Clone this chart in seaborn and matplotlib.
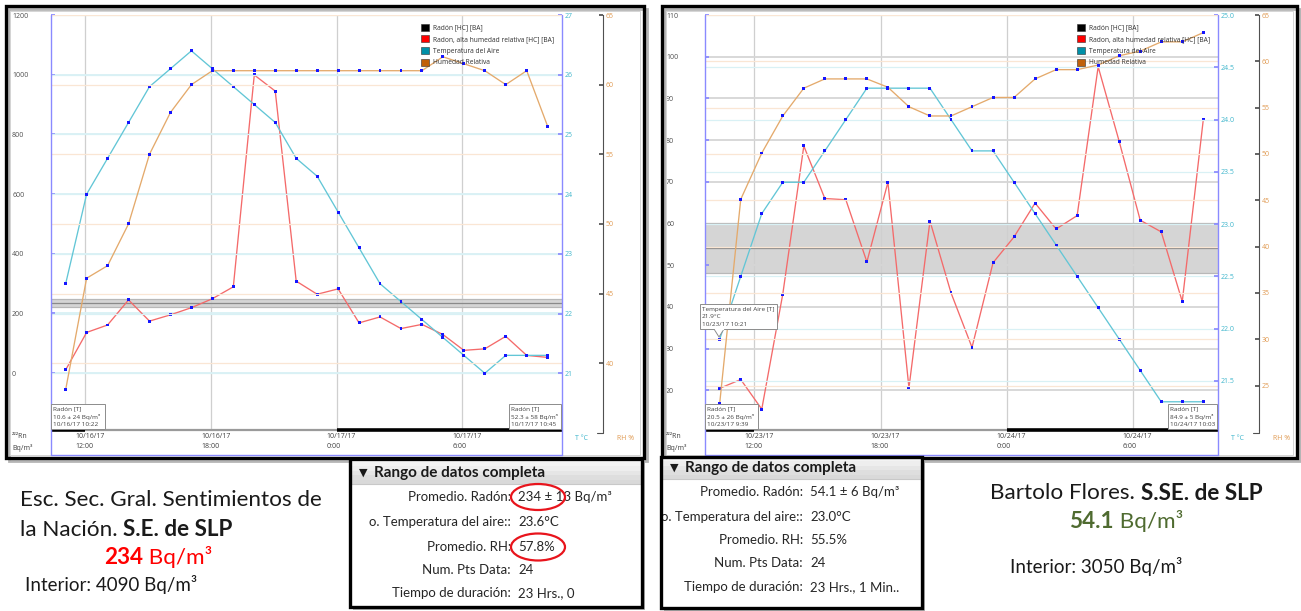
import pandas as pd
import matplotlib
matplotlib.use('Agg')
import matplotlib.pyplot as plt
import matplotlib.dates as mdates
import matplotlib.transforms as mtransforms
from matplotlib.patches import Rectangle, Ellipse, Patch, Polygon
import seaborn as sns

sns.set_theme(style='white')
plt.rcParams['font.family'] = ['Open Sans', 'DejaVu Sans']

W, H = 1301, 611

# ---------------- left chart: Esc. Sec. Gral. Sentimientos de la Nacion
left_start = '2017-10-16 11:04'
left_radon = [10.6, 136, 161, 245, 174, 195, 219, 249, 289, 999, 945, 308,
              264, 282, 168, 188, 149, 163, 129, 76, 81, 123, 59, 52.3]
left_temp = [22.5, 24.0, 24.6, 25.2, 25.8, 26.1, 26.4, 26.1, 25.8, 25.5, 25.2, 24.6,
             24.3, 23.7, 23.1, 22.5, 22.2, 21.9, 21.6, 21.3, 21.0, 21.3, 21.3, 21.3]
left_rh = [38.1, 46.1, 47.0, 50.0, 55.0, 58.0, 60.0, 61.0, 61.0, 61.0, 61.0, 61.0,
           61.0, 61.0, 61.0, 61.0, 61.0, 61.0, 62.0, 61.5, 61.0, 60.0, 61.0, 57.0]
left_mean, left_err = 234, 13
left_xlim = ['2017-10-16 10:22', '2017-10-17 10:45']
left_ticks = ['2017-10-16 12:00', '2017-10-16 18:00', '2017-10-17 00:00', '2017-10-17 06:00']
left_ticklabels = ['10/16/17\n12:00', '10/16/17\n18:00', '10/17/17\n0:00', '10/17/17\n6:00']
left_radon_ticks = [0, 200, 400, 600, 800, 1000, 1200]
left_temp_ticks = [21, 22, 23, 24, 25, 26, 27]
left_rh_ticks = [40, 45, 50, 55, 60, 65]
left_tips = [['Radón [T]', '10.6 ± 24 Bq/m³', '10/16/17 10:22'],
             ['Radón [T]', '52.3 ± 58 Bq/m³', '10/17/17 10:45']]
left_table = [('Promedio. Radón:', '234 ± 13 Bq/m³'),
              ('o. Temperatura del aire::', '23.6°C'),
              ('Promedio. RH:', '57.8%'),
              ('Num. Pts Data:', '24'),
              ('Tiempo de duración:', '23 Hrs., 0')]

# ---------------- right chart: Bartolo Flores
right_start = '2017-10-23 10:21'
right_radon = [20.5, 22.6, 15.5, 43.1, 78.6, 66.0, 65.7, 50.8, 69.9, 20.6, 60.6, 43.4,
               30.3, 50.6, 56.8, 64.9, 58.7, 61.9, 97.6, 79.7, 60.8, 58.0, 41.3, 84.9]
right_temp = [21.9, 22.5, 23.1, 23.4, 23.4, 23.7, 24.0, 24.3, 24.3, 24.3, 24.3, 24.0,
              23.7, 23.7, 23.4, 23.1, 22.8, 22.5, 22.2, 21.9, 21.6, 21.3, 21.3, 21.3]
right_rh = [23.1, 45.1, 50.1, 54.1, 57.1, 58.1, 58.1, 58.1, 57.2, 55.1, 54.1, 54.1,
            55.1, 56.1, 56.1, 58.1, 59.1, 59.1, 59.6, 60.6, 61.1, 62.1, 62.1, 63.1]
right_mean, right_err = 54.1, 6
right_xlim = ['2017-10-23 09:39', '2017-10-24 10:03']
right_ticks = ['2017-10-23 12:00', '2017-10-23 18:00', '2017-10-24 00:00', '2017-10-24 06:00']
right_ticklabels = ['10/23/17\n12:00', '10/23/17\n18:00', '10/24/17\n0:00', '10/24/17\n6:00']
right_radon_ticks = [20, 30, 40, 50, 60, 70, 80, 90, 100, 110]
right_temp_ticks = [21.5, 22.0, 22.5, 23.0, 23.5, 24.0, 24.5, 25.0]
right_rh_ticks = [25, 30, 35, 40, 45, 50, 55, 60, 65]
right_tips = [['Radón [T]', '20.5 ± 26 Bq/m³', '10/23/17 9:39'],
              ['Radón [T]', '84.9 ± 5 Bq/m³', '10/24/17 10:03']]
right_temp_tip = ['Temperatura del Aire [T]', '21.9°C', '10/23/17 10:21']
right_table = [('Promedio. Radón:', '54.1 ± 6 Bq/m³'),
               ('o. Temperatura del aire::', '23.0°C'),
               ('Promedio. RH:', '55.5%'),
               ('Num. Pts Data:', '24'),
               ('Tiempo de duración:', '23 Hrs., 1 Min..')]

legend_left = ['Radón [HC] [BA]', 'Radon, alta humedad relativa [HC] [BA]',
               'Temperatura del Aire', 'Humedad Relativa']
legend_right = ['Radón [HC] [BA]', 'Radon, alta humedad relativa [HC] [BA]',
                'Temperatura del-Aire', 'Humedad Relativa']
legend_colors = ['#000000', '#ff0000', '#0090a8', '#c0600a']

RED, CYAN, ORANGE, DOT = '#f46a6a', '#62c6d6', '#e4aa6c', '#1515ff'
BLUE_AX = '#8a8aff'

fig = plt.figure(figsize=(W / 100, H / 100), dpi=100)
top = fig.add_axes([0, 0, 1, 1], zorder=10)
top.set_xlim(0, W)
top.set_ylim(H, 0)
top.axis('off')
top.patch.set_alpha(0)


def px_rect(x0, y0, x1, y1):
    return [x0 / W, 1 - y1 / H, (x1 - x0) / W, (y1 - y0) / H]


def draw_chart(box, start, radon, temp, rh, mean, err, xlim, ticks, ticklabels,
               rticks, tticks, hticks, rlim, tlim, hlim, tfmt, rgrid, labels):
    x0, y0, x1, y1 = box
    times = pd.date_range(start, periods=len(radon), freq='h')
    df = pd.DataFrame({'time': times, 'radon': radon, 'temp': temp, 'rh': rh})
    ax = fig.add_axes(px_rect(*box))
    ax_t = ax.twinx()
    ax_rh = ax.twinx()

    ax.axhspan(mean - err, mean + err, color='#d5d5d5', zorder=0.5, lw=0)
    for v, c in [(mean - err, '#b8b8b8'), (mean + err, '#b8b8b8'), (mean, '#8a8a8a')]:
        ax.axhline(v, color=c, lw=0.9, zorder=0.6)

    for a, col, c in [(ax, 'radon', RED), (ax_t, 'temp', CYAN), (ax_rh, 'rh', ORANGE)]:
        sns.lineplot(data=df, x='time', y=col, ax=a, color=c, lw=0.95, zorder=3)
        sns.scatterplot(data=df, x='time', y=col, ax=a, color=DOT, marker='s', s=4.5,
                        linewidth=0, edgecolor='none', zorder=4)
        a.set_xlabel('')
        a.set_ylabel('')
        for s in a.spines.values():
            s.set_visible(False)

    ax.set_xlim(pd.Timestamp(xlim[0]), pd.Timestamp(xlim[1]))
    ax.set_ylim(*rlim)
    ax_t.set_ylim(*tlim)
    ax_rh.set_ylim(*hlim)

    ax.set_xticks([mdates.date2num(pd.Timestamp(t)) for t in ticks])
    ax.set_xticklabels(ticklabels, fontsize=5, color='#404040', ha='left',
                       linespacing=1.55)
    ax.tick_params(axis='x', length=0, pad=2)
    off = mtransforms.ScaledTranslation(-10 / 100, 0, fig.dpi_scale_trans)
    for lbl in ax.get_xticklabels():
        lbl.set_transform(lbl.get_transform() + off)
    ax.grid(axis='x', color='#cfcfcf', lw=0.9)

    ax.set_yticks(rticks)
    ax.set_yticklabels([str(v) for v in rticks], fontsize=5, color='#505050', ha='left')
    ax.tick_params(axis='y', direction='in', length=3, color=BLUE_AX, pad=28)
    ax.grid(axis='y', color=rgrid, lw=1.3)

    ax_t.set_yticks(tticks)
    ax_t.set_yticklabels([tfmt.format(v) for v in tticks], fontsize=5, color='#3fb6cc')
    ax_t.tick_params(axis='y', direction='in', length=3, color=BLUE_AX, pad=2)
    ax_t.grid(axis='y', color='#d9f1f5', lw=0.9)

    ax_rh.spines['right'].set_visible(True)
    ax_rh.spines['right'].set_position(('outward', 41 * 0.72))
    ax_rh.spines['right'].set_color('#505050')
    ax_rh.spines['right'].set_linewidth(0.8)
    ax_rh.set_yticks(hticks)
    ax_rh.set_yticklabels([str(v) for v in hticks], fontsize=5, color='#e09a52')
    ax_rh.tick_params(axis='y', direction='in', length=3, color='#505050', pad=2)
    ax_rh.grid(axis='y', color='#fae6d4', lw=0.9)

    # bottom timeline bar
    bl = mtransforms.blended_transform_factory(ax.transData, ax.transAxes)
    xs = [mdates.date2num(pd.Timestamp(t)) for t in [xlim[0], ticks[0], ticks[2], xlim[1]]]
    ax.plot(xs[:2], [0, 0], transform=bl, color='black', lw=2.6, clip_on=False,
            solid_capstyle='butt', zorder=6)
    ax.plot(xs[1:3], [0, 0], transform=bl, color='#9a9a9a', lw=1.6, clip_on=False,
            solid_capstyle='butt', zorder=6)
    ax.plot(xs[2:], [0, 0], transform=bl, color='black', lw=2.6, clip_on=False,
            solid_capstyle='butt', zorder=6)

    handles = [Patch(facecolor=c, edgecolor='#303030', lw=0.4) for c in legend_colors]
    leg = ax_rh.legend(handles, labels, loc='upper left', bbox_to_anchor=(x1 - 145, y0 + 5),
                       bbox_transform=top.transData, fontsize=4.8, frameon=True,
                       fancybox=False, framealpha=0, edgecolor='#707070',
                       handlelength=1.2, handleheight=1.2, handletextpad=0.6,
                       labelspacing=0.6, borderpad=0.55, borderaxespad=0)
    leg.get_frame().set_linewidth(0.8)
    for t in leg.get_texts():
        t.set_color('#303030')

    # axis frame lines and captions
    top.plot([x0, x0], [y0, 455], color=BLUE_AX, lw=1.0)
    top.plot([x1, x1], [y0, 455], color=BLUE_AX, lw=1.0)
    top.plot([x0, x1], [455, 455], color=BLUE_AX, lw=1.0)
    top.plot([x1 + 35, x1 + 41, x1 + 41], [433, 433, 430], color='#505050', lw=0.8)
    top.text(x0 - 39, 437, '²²²Rn', fontsize=5, color='#404040', va='center')
    top.text(x0 - 39, 448, 'Bq/m³', fontsize=5, color='#404040', va='center')
    top.text(x1 + 13, 438, 'T °C', fontsize=5, color='#3fb6cc', va='center')
    top.text(x1 + 55, 438, 'RH %', fontsize=5, color='#e09a52', va='center')
    return ax


def tooltip(x0, y0, x1, y1, lines):
    top.add_patch(Rectangle((x0, y0), x1 - x0, y1 - y0, facecolor='white',
                            edgecolor='#8c8c8c', lw=0.7, zorder=5))
    for i, s in enumerate(lines):
        top.text(x0 + 2, y0 + 5 + 8 * i, s, fontsize=4.6, color='#404040',
                 va='center', zorder=6)


def panel_frame(x0, y0, x1, y1):
    top.add_patch(Rectangle((x0 + 3, y0 + 3), x1 - x0, y1 - y0, fill=False,
                            edgecolor='#b5b5b5', lw=2.0, zorder=1))
    top.add_patch(Rectangle((x0 + 4, y0 + 5), x1 - x0 - 8, y1 - y0 - 8, fill=False,
                            edgecolor='#d5d5d5', lw=0.7, zorder=1))
    top.add_patch(Rectangle((x0, y0), x1 - x0, y1 - y0, fill=False,
                            edgecolor='black', lw=2.4, zorder=2))


# ---------------- the two charts
panel_frame(6, 6, 644, 458)
panel_frame(662, 6, 1297, 458)

draw_chart((51, 15, 562, 430), left_start, left_radon, left_temp, left_rh,
           left_mean, left_err, left_xlim, left_ticks, left_ticklabels,
           left_radon_ticks, left_temp_ticks, left_rh_ticks,
           (-191, 1200), (20.05, 27), (35.2, 65), '{:.0f}', '#d9f1f5', legend_left)
draw_chart((705, 15, 1218, 430), right_start, right_radon, right_temp, right_rh,
           right_mean, right_err, right_xlim, right_ticks, right_ticklabels,
           right_radon_ticks, right_temp_ticks, right_rh_ticks,
           (10.5, 110), (21.03, 25.0), (20.2, 65), '{:.1f}', '#d6d6d6', legend_right)

tooltip(51, 404, 105, 429, left_tips[0])
tooltip(509, 404, 561, 429, left_tips[1])
tooltip(705, 404, 758, 429, right_tips[0])
tooltip(1168, 404, 1217, 429, right_tips[1])
top.add_patch(Polygon([[714, 329], [719, 337], [724, 329]], closed=True, facecolor='white',
                      edgecolor='#8c8c8c', lw=0.7, zorder=5))
tooltip(700, 304, 777, 329, right_temp_tip)
top.plot([715, 723], [329, 329], color='white', lw=1.0, zorder=7)


# ---------------- summary tables
def draw_table(x0, y0, x1, y1, head_y, row_y, split_x, rows):
    top.add_patch(Rectangle((x0 + 3, y0 + 3), x1 - x0, y1 - y0, facecolor='#b5b5b5',
                            edgecolor='none', zorder=3))
    top.add_patch(Rectangle((x0, y0), x1 - x0, y1 - y0, facecolor='white',
                            edgecolor='none', zorder=3))
    grad = [[0.95], [0.93], [0.9], [0.87], [0.85]]
    top.imshow(grad, extent=(x0, x1, head_y + 11, head_y - 11), cmap='gray', vmin=0, vmax=1,
               aspect='auto', zorder=3.5)
    top.plot([x0, x1], [head_y + 11, head_y + 11], color='#c8c8c8', lw=0.8, zorder=3.6)
    top.text(x0 + 9, head_y, '▼', fontsize=8, color='#1a1a1a', va='center', ha='left',
             family=['DejaVu Sans'], zorder=4)
    top.text(x0 + 24, head_y, 'Rango de datos completa', fontsize=11, fontweight='bold',
             color='#1a1a1a', va='center', ha='left', family=['Lato', 'DejaVu Sans'], zorder=4)
    for (lab, val), y in zip(rows, row_y):
        t = top.text(split_x, y, lab, fontsize=9.5, color='#262626', va='center', ha='right',
                     family=['Lato', 'DejaVu Sans'], zorder=4)
        t.set_clip_path(Rectangle((x0, y0), x1 - x0, y1 - y0, transform=top.transData))
        top.text(split_x + 7, y, val, fontsize=9.5, color='#262626', va='center', ha='left',
                 family=['Lato', 'DejaVu Sans'], zorder=4)
    top.add_patch(Rectangle((x0, y0), x1 - x0, y1 - y0, fill=False,
                            edgecolor='black', lw=2.4, zorder=5))


draw_table(350, 459, 642, 607, 473, [497, 522, 547, 570, 593], 511, left_table)
draw_table(661, 457, 922, 608, 468, [492, 517, 540, 563, 587], 803, right_table)
top.add_patch(Ellipse((538, 497), 54, 26, fill=False, edgecolor='#e8141c', lw=1.6, zorder=6))
top.add_patch(Ellipse((538, 547), 54, 27, fill=False, edgecolor='#e8141c', lw=1.6, zorder=6))
top.set_xlim(0, W)
top.set_ylim(H, 0)

# ---------------- captions
renderer = fig.canvas.get_renderer()


def run_text(x, y, parts, size, ha='left'):
    # parts: list of (text, weight, color); placed one after another
    arts = []
    for s, wt, c in parts:
        arts.append(top.text(0, y, s, fontsize=size, fontweight=wt, color=c, va='center',
                             ha='left', family=['Lato', 'DejaVu Sans'], zorder=6))
    widths = [a.get_window_extent(renderer).width for a in arts]
    start = x - sum(widths) / 2 if ha == 'center' else x
    for a, w in zip(arts, widths):
        a.set_x(start)
        start += w


run_text(20, 500, [('Esc. Sec. Gral. Sentimientos de', 'normal', '#1a1a1a')], 16.2)
run_text(20, 530, [('la Nación. ', 'normal', '#1a1a1a'), ('S.E. de SLP', 'bold', '#1a1a1a')], 16.2)
run_text(158, 557, [('234', 'bold', '#ff0000'), (' Bq/m³', 'normal', '#ff0000')], 16.2, 'center')
run_text(25, 585, [('Interior: 4090 Bq/m³', 'normal', '#1a1a1a')], 13.5)
run_text(990, 493, [('Bartolo Flores. ', 'normal', '#1a1a1a'), ('S.SE. de SLP', 'bold', '#1a1a1a')], 16.2)
run_text(1126, 521, [('54.1', 'bold', '#4f6b30'), (' Bq/m³', 'normal', '#4f6b30')], 16.2, 'center')
run_text(1010, 566, [('Interior: 3050 Bq/m³', 'normal', '#1a1a1a')], 13.5)

fig.savefig('out.png', dpi=100, facecolor='white')
